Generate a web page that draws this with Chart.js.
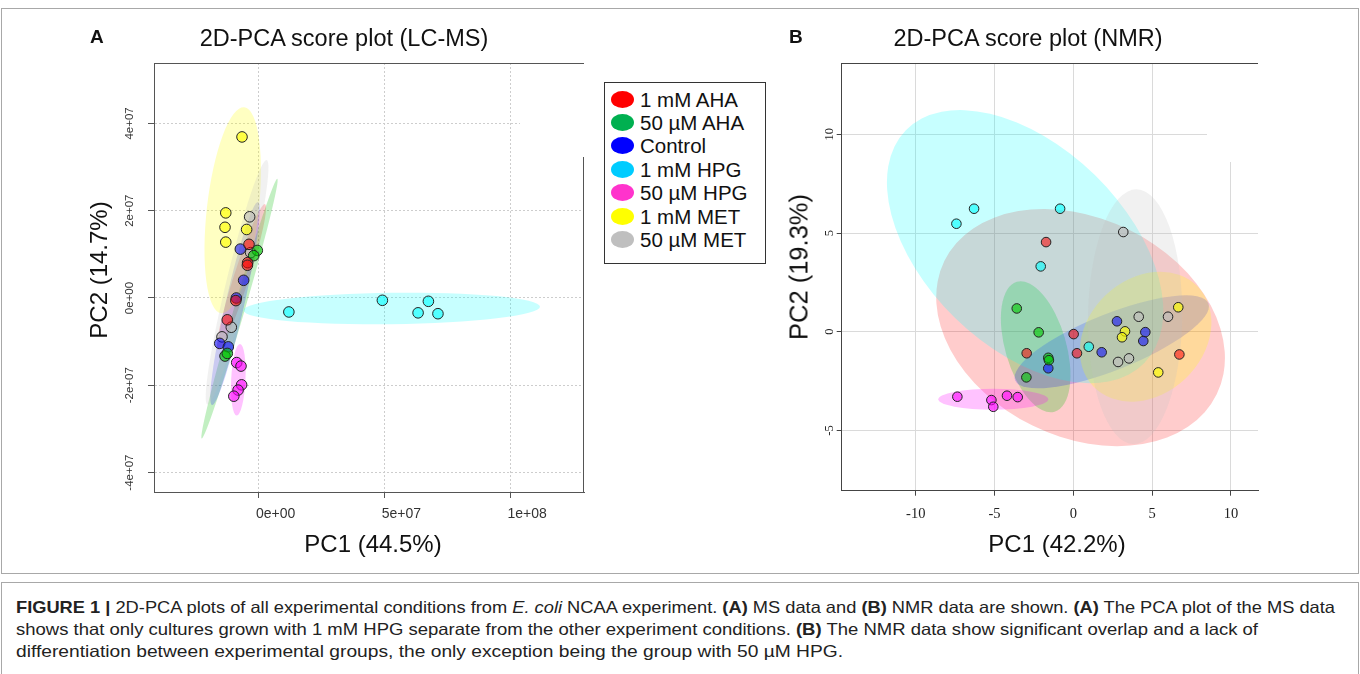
<!DOCTYPE html>
<html>
<head>
<meta charset="utf-8">
<script src="https://cdn.jsdelivr.net/npm/chart.js@4.4.1/dist/chart.umd.min.js"></script>
<style>
body { margin: 0; background: #fff; width: 1360px; height: 674px; position: relative; overflow: hidden;
       font-family: "Liberation Sans", Arial, sans-serif; color: #111; }
.frame { position: absolute; border: 1px solid #a8a8a8; }
canvas { position: absolute; top: 0; }
.ptitle { position: absolute; font-size: 23.5px; line-height: 28px; top: 24px; transform: translateX(-50%); white-space: nowrap; }
.letter { position: absolute; font-size: 19px; font-weight: bold; top: 26px; }
.atitle { position: absolute; font-size: 24px; white-space: nowrap; transform: translate(-50%, -50%); }
.rot { transform: translate(-50%, -50%) rotate(-90deg); }
#legend { position: absolute; left: 604px; top: 82px; width: 160px; height: 180px; border: 1px solid #333; background: #fff; z-index: 2; }
#legend .row { position: absolute; left: 0; height: 23px; font-size: 20.5px; line-height: 23px; white-space: nowrap; }
#legend .sw { position: absolute; left: 6px; top: 3px; width: 23px; height: 17px; border-radius: 50%; }
#legend .tx { position: absolute; left: 35px; top: 0; }
.cap { position: absolute; left: 16px; font-size: 16.5px; line-height: 22px; color: #222; white-space: nowrap; }
.cap span.line { display: inline-block; transform-origin: 0 50%; }
</style>
</head>
<body>
<div class="frame" style="left:1px;top:8px;width:1356px;height:564px"></div>
<div class="frame" style="left:1px;top:582px;width:1356px;height:100px"></div>

<canvas id="chartA" width="600" height="570" style="left:0"></canvas>
<canvas id="chartB" width="520" height="570" style="left:760px"></canvas>

<div class="letter" style="left:90px">A</div>
<div class="letter" style="left:789px">B</div>
<div class="ptitle" style="left:344px">2D-PCA score plot (LC-MS)</div>
<div class="ptitle" style="left:1028px">2D-PCA score plot (NMR)</div>
<div class="atitle" style="left:373px;top:544px">PC1 (44.5%)</div>
<div class="atitle rot" style="left:99px;top:270px">PC2 (14.7%)</div>
<div class="atitle" style="left:1057px;top:544px">PC1 (42.2%)</div>
<div class="atitle rot" style="left:799px;top:267px;font-size:25.5px">PC2 (19.3%)</div>
<div id="legend"></div>

<div class="cap" style="top:596px"><span class="line" data-w="1319"><b>FIGURE 1 |</b> 2D-PCA plots of all experimental conditions from <i>E. coli</i> NCAA experiment. <b>(A)</b> MS data and <b>(B)</b> NMR data are shown. <b>(A)</b> The PCA plot of the MS data</span></div>
<div class="cap" style="top:618px"><span class="line" data-w="1242">shows that only cultures grown with 1 mM HPG separate from the other experiment conditions. <b>(B)</b> The NMR data show significant overlap and a lack of</span></div>
<div class="cap" style="top:640px"><span class="line" data-w="827">differentiation between experimental groups, the only exception being the group with 50 µM HPG.</span></div>

<script>
// groups, in legend order
const groups = ['1 mM AHA', '50 µM AHA', 'Control', '1 mM HPG', '50 µM HPG', '1 mM MET', '50 µM MET'];
const legendColors = ['#ff0000', '#00b050', '#0000ff', '#00ccff', '#ff33cc', '#ffff00', '#bfbfbf'];
const pointColors = ['rgba(255,0,0,0.55)', 'rgba(0,200,0,0.6)', 'rgba(0,0,255,0.55)', 'rgba(0,255,255,0.6)',
                     'rgba(255,0,255,0.6)', 'rgba(255,255,0,0.65)', 'rgba(190,190,190,0.6)'];
const ellipseColors = ['rgba(255,0,0,0.2)', 'rgba(0,190,0,0.24)', 'rgba(0,0,255,0.2)', 'rgba(0,255,255,0.22)',
                       'rgba(255,0,255,0.24)', 'rgba(255,255,0,0.24)', 'rgba(190,190,190,0.22)'];

// panel A: LC-MS scores (one list per group)
const lcmsPC1 = [
  [-3.86e6, -4.4e6, -4.5e6, -9.1e6, -1.25e7],
  [-5.6e5, -2.0e6, -1.34e7, -1.25e7],
  [-7.3e6, -6.0e6, -8.9e6, -1.55e7, -1.21e7],
  [1.2e7, 4.92e7, 6.75e7, 6.34e7, 7.13e7],
  [-8.75e6, -7.04e6, -6.8e6, -8.2e6, -9.9e6],
  [-6.64e6, -1.31e7, -1.34e7, -1.31e7, -4.8e6],
  [-3.6e6, -3.2e6, -1.09e7, -1.46e7]
];
const lcmsPC2 = [
  [1.23e7, 8.1e6, 7.5e6, -6e5, -5.0e6],
  [1.09e7, 9.7e6, -1.33e7, -1.27e7],
  [1.12e7, 4.05e6, 0, -1.04e7, -1.12e7],
  [-3.2e6, -5.3e5, -7.6e5, -3.4e6, -3.6e6],
  [-1.48e7, -1.56e7, -1.99e7, -2.11e7, -2.25e7],
  [3.69e7, 1.95e7, 1.62e7, 1.28e7, 1.57e7],
  [1.86e7, 1.04e7, -6.7e6, -8.9e6]
];
// confidence ellipses: [centre x, centre y, major-axis tip x, tip y, minor/major ratio]
const lcmsEllipses = [
  [-6.84e6, 4.81e6, 2.51e6, 2.15e7, 0.1],
  [-7.64e6, -2.45e6, 7.4e6, 2.73e7, 0.04],
  [-9.43e6, -1.26e6, -2.8e5, 2.2e7, 0.09],
  [5.29e7, -2.41e6, 1.119e8, -1.99e6, 0.106],
  [-8.11e6, -1.874e7, -7.44e6, -1.054e7, 0.2],
  [-1.034e7, 2.01e7, -5.73e6, 4.37e7, 0.25],
  [-8.6e6, 3.6e6, 3.18e6, 3.16e7, 0.085]
];
const lcmsXTicks = [0, 5e7, 1e8];
const lcmsXTickLabels = ['0e+00', '5e+07', '1e+08'];
const lcmsYTicks = [-4e7, -2e7, 0, 2e7, 4e7];
const lcmsYTickLabels = ['-4e+07', '-2e+07', '0e+00', '2e+07', '4e+07'];

// panel B: NMR scores
const nmrPC1 = [
  [-1.73, -2.96, 0.02, 0.23, 6.73],
  [-3.59, -2.20, -1.59, -1.55, -2.98],
  [2.77, 4.57, 4.44, 1.80, -1.59],
  [-7.42, -6.30, -0.84, -2.07, 0.98],
  [-7.36, -5.20, -5.08, -4.21, -3.53],
  [6.66, 3.28, 3.09, 5.39],
  [3.17, 4.15, 6.01, 2.84, 3.53]
];
const nmrPC2 = [
  [4.54, -1.09, -0.12, -1.09, -1.15],
  [1.18, -0.03, -1.32, -1.44, -2.31],
  [0.53, -0.02, -0.47, -1.04, -1.85],
  [5.47, 6.23, 6.23, 3.31, -0.76],
  [-3.29, -3.46, -3.80, -3.24, -3.31],
  [1.24, 0.02, -0.28, -2.06],
  [5.05, 0.76, 0.76, -1.53, -1.35]
];
const nmrEllipses = [
  [0.46, 0.21, 9.10, -3.17, 0.72],
  [-2.39, -0.76, -3.59, 2.53, 0.45],
  [2.44, -0.51, 8.57, 1.44, 0.27],
  [-3.06, 4.31, -10.63, 10.20, 0.6],
  [-5.08, -3.42, -1.59, -3.42, 0.19],
  [4.59, -0.25, 7.92, 2.26, 0.8],
  [3.92, 0.76, 4.02, 7.21, 0.37]
];
const nmrXTicks = [-10, -5, 0, 5, 10];
const nmrXTickLabels = ['-10', '-5', '0', '5', '10'];
const nmrYTicks = [-5, 0, 5, 10];
const nmrYTickLabels = ['-5', '0', '5', '10'];

// legend
const legend = document.getElementById('legend');
groups.forEach((g, i) => {
  const row = document.createElement('div');
  row.className = 'row';
  row.style.top = (4.6 + i * 23.4) + 'px';
  row.innerHTML = '<span class="sw" style="background:' + legendColors[i] + '"></span><span class="tx">' + g + '</span>';
  legend.appendChild(row);
});

// caption lines are squeezed to the narrow journal face
document.querySelectorAll('.cap span.line').forEach(el => {
  const w = el.getBoundingClientRect().width;
  el.style.transform = 'scaleX(' + (+el.dataset.w / w) + ')';
});

// ellipses + top/right box lines + the blank patch in the upper right corner
function overlay(ellipses, frameColor, cover, rightFrom) {
  return {
    id: 'overlay',
    beforeDatasetsDraw(chart) {
      const { ctx, chartArea: a, scales: { x, y } } = chart;
      ctx.save();
      ctx.fillStyle = '#fff';
      ctx.fillRect(cover[0], cover[1], cover[2], cover[3]);
      ctx.strokeStyle = frameColor;
      ctx.lineWidth = 1;
      ctx.beginPath();
      const t = Math.round(a.top) + 0.5, r = Math.round(a.right) - 0.5;
      ctx.moveTo(a.left, t);
      ctx.lineTo(a.right, t);
      if (rightFrom !== null) {
        ctx.moveTo(r, rightFrom);
        ctx.lineTo(r, a.bottom);
      }
      ctx.stroke();
      ctx.beginPath();
      ctx.rect(a.left + 1, a.top + 1, a.right - a.left - 1, a.bottom - a.top - 1);
      ctx.clip();
      ellipses.forEach((e, i) => {
        const px = x.getPixelForValue(e[0]), py = y.getPixelForValue(e[1]);
        const ux = x.getPixelForValue(e[2]) - px, uy = y.getPixelForValue(e[3]) - py;
        const len = Math.hypot(ux, uy);
        ctx.beginPath();
        ctx.ellipse(px, py, len, len * e[4], Math.atan2(uy, ux), 0, Math.PI * 2);
        ctx.fillStyle = ellipseColors[i];
        ctx.fill();
      });
      ctx.restore();
    }
  };
}

function datasets(xs, ys, radius) {
  return groups.map((g, i) => ({
    label: g,
    data: xs[i].map((v, j) => ({ x: v, y: ys[i][j] })),
    backgroundColor: pointColors[i],
    borderColor: '#222',
    borderWidth: 1,
    pointRadius: radius
  }));
}

new Chart(document.getElementById('chartA'), {
  type: 'scatter',
  data: { datasets: datasets(lcmsPC1, lcmsPC2, 5.3) },
  options: {
    responsive: false,
    animation: false,
    devicePixelRatio: 1,
    layout: { padding: { left: 110, right: 16, top: 63, bottom: 48 } },
    plugins: { legend: { display: false }, tooltip: { enabled: false } },
    scales: {
      x: {
        min: -4.165e7, max: 1.294e8, bounds: 'data',
        afterBuildTicks: s => { s.ticks = lcmsXTicks.map(v => ({ value: v })); },
        afterFit: s => { s.height = 30; },
        ticks: { callback: (v, i) => lcmsXTickLabels[i], labelOffset: 17, padding: 8, autoSkip: false, maxRotation: 0,
                 color: '#333', font: { family: 'Liberation Sans', size: 14 } },
        grid: { color: '#cdcdcd', tickColor: '#555', tickLength: 6 },
        border: { color: '#555', dash: [2, 2] }
      },
      y: {
        min: -4.445e7, max: 5.384e7, bounds: 'data',
        afterBuildTicks: s => { s.ticks = lcmsYTicks.map(v => ({ value: v })); },
        afterFit: s => { s.width = 44; },
        ticks: { callback: (v, i) => lcmsYTickLabels[i], minRotation: 90, maxRotation: 90, crossAlign: 'center',
                 padding: 0, autoSkip: false, color: '#333', font: { family: 'Liberation Sans', size: 11.5 } },
        grid: { color: '#cdcdcd', tickColor: '#555', tickLength: 6 },
        border: { color: '#555', dash: [2, 2] }
      }
    }
  },
  plugins: [overlay(lcmsEllipses, '#555', [520, 64, 70, 93], 157)]
});

new Chart(document.getElementById('chartB'), {
  type: 'scatter',
  data: { datasets: datasets(nmrPC1, nmrPC2, 4.8) },
  options: {
    responsive: false,
    animation: false,
    devicePixelRatio: 1,
    layout: { padding: { left: 51.7, right: 22, top: 63, bottom: 49.3 } },
    plugins: { legend: { display: false }, tooltip: { enabled: false } },
    scales: {
      x: {
        min: -14.7, max: 11.72, bounds: 'data',
        afterBuildTicks: s => { s.ticks = nmrXTicks.map(v => ({ value: v })); },
        afterFit: s => { s.height = 30; },
        ticks: { callback: (v, i) => nmrXTickLabels[i], padding: 10, autoSkip: false, maxRotation: 0,
                 color: '#222', font: { family: 'Liberation Serif', size: 14.5 } },
        grid: { color: '#dadada', tickColor: '#444', tickLength: 5 },
        border: { color: '#444' }
      },
      y: {
        min: -8.05, max: 13.61, bounds: 'data',
        afterBuildTicks: s => { s.ticks = nmrYTicks.map(v => ({ value: v })); },
        afterFit: s => { s.width = 30; },
        ticks: { callback: (v, i) => nmrYTickLabels[i], minRotation: 90, maxRotation: 90, crossAlign: 'center',
                 padding: 1, autoSkip: false, color: '#222', font: { family: 'Liberation Serif', size: 12.5 } },
        grid: { color: '#dadada', tickColor: '#444', tickLength: 5 },
        border: { color: '#444' }
      }
    }
  },
  plugins: [overlay(nmrEllipses, '#444', [447, 64, 60, 98], null)]
});
</script>
</body>
</html>
